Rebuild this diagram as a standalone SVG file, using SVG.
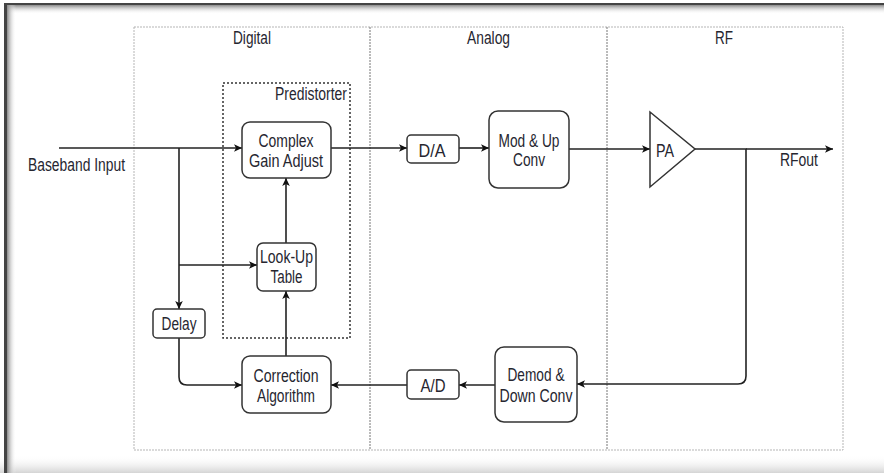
<svg xmlns="http://www.w3.org/2000/svg" width="884" height="473" viewBox="0 0 884 473">
<defs>
<linearGradient id="gTop" x1="0" y1="0" x2="0" y2="1"><stop offset="0" stop-color="#8a8a8a"/><stop offset="1" stop-color="#fff" stop-opacity="0"/></linearGradient>
<linearGradient id="gLeft" x1="0" y1="0" x2="1" y2="0"><stop offset="0" stop-color="#8a8a8a"/><stop offset="1" stop-color="#fff" stop-opacity="0"/></linearGradient>
<linearGradient id="gBot" x1="0" y1="0" x2="0" y2="1"><stop offset="0" stop-color="#fff" stop-opacity="0"/><stop offset="1" stop-color="#d4d4d4"/></linearGradient>
<marker id="arr" markerUnits="userSpaceOnUse" markerWidth="10" markerHeight="10" viewBox="0 0 10 10" refX="9" refY="5" orient="auto">
<path d="M1,1.2 L9,5 L1,8.8 L3,5 z" fill="#111"/>
</marker>
<style>
.t{font-family:"Liberation Sans",Arial,sans-serif;font-size:17.5px;fill:#262630;text-anchor:middle}
.box{fill:#fff;stroke:#333;stroke-width:1.5}
.reg{fill:none;stroke:#b5b5b5;stroke-width:1;stroke-dasharray:2,1}
.c{fill:none;stroke:#222;stroke-width:1.6;marker-end:url(#arr)}
</style>
</defs>
<rect width="884" height="473" fill="#fff"/>
<g id="frame">
<rect x="0" y="455" width="884" height="18" fill="url(#gBot)"/>
<rect x="4" y="5" width="880" height="9" fill="url(#gTop)"/>
<rect x="7" y="4" width="9" height="469" fill="url(#gLeft)"/>
<rect x="4" y="3" width="880" height="2" fill="#444"/>
<rect x="4" y="3" width="3" height="470" fill="#444"/>
</g>
<g id="regions">
<rect class="reg" x="134" y="27" width="709" height="423"/>
<line x1="370" y1="27" x2="370" y2="450" stroke="#777" stroke-width="1" stroke-dasharray="2,1"/>
<line x1="607" y1="27" x2="607" y2="450" stroke="#777" stroke-width="1" stroke-dasharray="2,1"/>
<text class="t" x="252" y="44" textLength="38" lengthAdjust="spacingAndGlyphs">Digital</text>
<text class="t" x="488.5" y="44" textLength="43" lengthAdjust="spacingAndGlyphs">Analog</text>
<text class="t" x="724" y="44" textLength="18" lengthAdjust="spacingAndGlyphs">RF</text>
</g>
<g id="predistorter">
<rect x="223" y="83" width="127" height="255" fill="none" stroke="#333" stroke-width="1.5" stroke-dasharray="2,2"/>
<text class="t" x="311" y="100" textLength="72" lengthAdjust="spacingAndGlyphs">Predistorter</text>
</g>
<g id="connectors">
<path class="c" d="M59,148 L242,148"/>
<path class="c" d="M179,148 L179,309"/>
<path class="c" d="M179,265 L257,265"/>
<path class="c" d="M286,243 L286,178"/>
<path class="c" d="M286,356 L286,291"/>
<path class="c" d="M179,338 L179,377 Q179,385 187,385 L242,385"/>
<path class="c" d="M407,385 L331,385"/>
<path class="c" d="M495,385 L459,385"/>
<path class="c" d="M695,149 L746,149 L746,376 Q746,384 738,384 L577,384"/>
<path class="c" d="M746,149 L833,149"/>
<path class="c" d="M331,148 L407,148"/>
<path class="c" d="M459,148 L489,148"/>
<path class="c" d="M569,149 L650,149"/>
</g>
<g id="complex-gain-adjust">
<rect class="box" x="242" y="122" width="89" height="56" rx="8"/>
<text class="t" x="286" y="147" textLength="55" lengthAdjust="spacingAndGlyphs">Complex</text>
<text class="t" x="286" y="167" textLength="74" lengthAdjust="spacingAndGlyphs">Gain Adjust</text>
</g>
<g id="look-up-table">
<rect class="box" x="257" y="243" width="59" height="48" rx="6"/>
<text class="t" x="286.5" y="263" textLength="53" lengthAdjust="spacingAndGlyphs">Look-Up</text>
<text class="t" x="286.5" y="283" textLength="32" lengthAdjust="spacingAndGlyphs">Table</text>
</g>
<g id="delay">
<rect class="box" x="153" y="309" width="52" height="29" rx="4"/>
<text class="t" x="179" y="330" textLength="35" lengthAdjust="spacingAndGlyphs">Delay</text>
</g>
<g id="correction-algorithm">
<rect class="box" x="242" y="356" width="89" height="57" rx="8"/>
<text class="t" x="286" y="382" textLength="65" lengthAdjust="spacingAndGlyphs">Correction</text>
<text class="t" x="286" y="402" textLength="58" lengthAdjust="spacingAndGlyphs">Algorithm</text>
</g>
<g id="da">
<rect class="box" x="407" y="135" width="52" height="28" rx="4"/>
<text class="t" x="432" y="157" textLength="27" lengthAdjust="spacingAndGlyphs">D/A</text>
</g>
<g id="mod-up-conv">
<rect class="box" x="489" y="111" width="80" height="77" rx="9"/>
<text class="t" x="529" y="147" textLength="61" lengthAdjust="spacingAndGlyphs">Mod &amp; Up</text>
<text class="t" x="529" y="166" textLength="32" lengthAdjust="spacingAndGlyphs">Conv</text>
</g>
<g id="pa">
<polygon points="650,112 695,149 650,187" fill="#fff" stroke="#333" stroke-width="1.5"/>
<text class="t" x="665" y="157" textLength="18" lengthAdjust="spacingAndGlyphs">PA</text>
</g>
<g id="rfout">
<text class="t" x="799" y="166" textLength="38" lengthAdjust="spacingAndGlyphs">RFout</text>
</g>
<g id="baseband-input">
<text class="t" x="76.5" y="171" textLength="97" lengthAdjust="spacingAndGlyphs">Baseband Input</text>
</g>
<g id="ad">
<rect class="box" x="407" y="370" width="52" height="29" rx="4"/>
<text class="t" x="433" y="392" textLength="25" lengthAdjust="spacingAndGlyphs">A/D</text>
</g>
<g id="demod-down-conv">
<rect class="box" x="495" y="347" width="82" height="75" rx="9"/>
<text class="t" x="536" y="381" textLength="57" lengthAdjust="spacingAndGlyphs">Demod &amp;</text>
<text class="t" x="536" y="402" textLength="73" lengthAdjust="spacingAndGlyphs">Down Conv</text>
</g>
</svg>
